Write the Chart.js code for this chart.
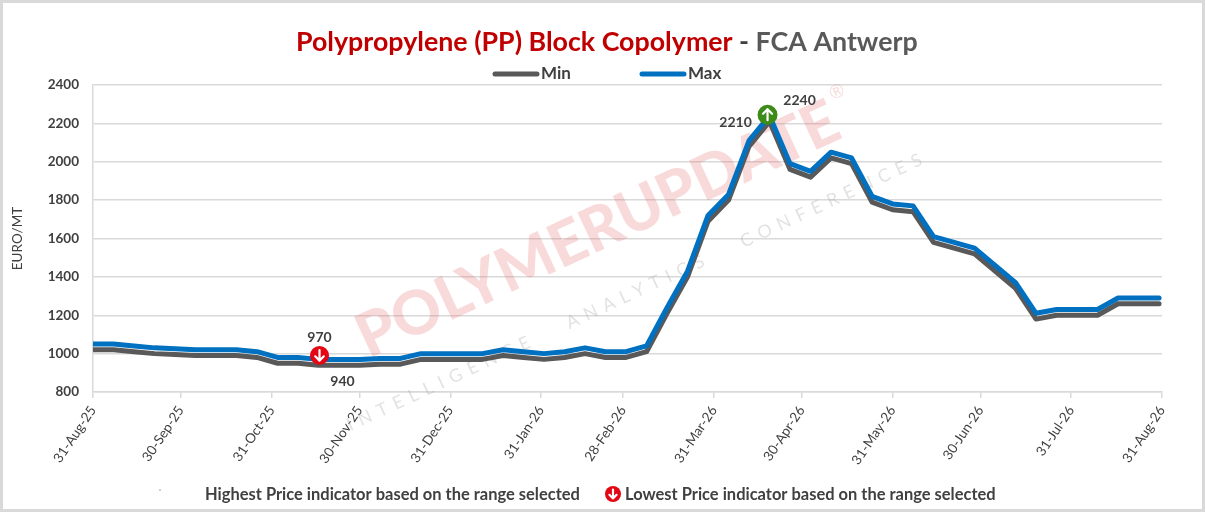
<!DOCTYPE html>
<html>
<head>
<meta charset="utf-8">
<script src="https://cdn.jsdelivr.net/npm/chart.js@4.4.1/dist/chart.umd.min.js"></script>
<style>
html,body{margin:0;padding:0;background:#fff}
canvas{display:block}
</style>
</head>
<body>
<canvas id="chart" width="1205" height="512"></canvas>
<script>
// weekly price dates
const weekDates = [
'2025-08-31','2025-09-07','2025-09-14','2025-09-21','2025-09-28','2025-10-05','2025-10-12','2025-10-19','2025-10-26',
'2025-11-02','2025-11-09','2025-11-16','2025-11-23','2025-11-30','2025-12-07','2025-12-14','2025-12-21','2025-12-28',
'2026-01-04','2026-01-11','2026-01-18','2026-01-25','2026-02-01','2026-02-08','2026-02-15','2026-02-22',
'2026-03-01','2026-03-08','2026-03-15','2026-03-22','2026-03-29','2026-04-05','2026-04-12','2026-04-19','2026-04-26',
'2026-05-03','2026-05-10','2026-05-17','2026-05-24','2026-05-31','2026-06-07','2026-06-14','2026-06-21','2026-06-28',
'2026-07-05','2026-07-12','2026-07-19','2026-07-26','2026-08-02','2026-08-09','2026-08-16','2026-08-23','2026-08-30'
];

const minPrice = [
1020,1020,1010,1000,995,990,990,990,980,
950,950,940,940,940,945,945,970,970,
970,970,990,980,970,980,1000,980,
980,1010,1210,1400,1690,1800,2080,2210,1960,
1920,2020,1990,1790,1750,1740,1580,1550,1520,
1430,1340,1180,1200,1200,1200,1260,1260,1260
];

const maxPrice = [
1050,1050,1040,1030,1025,1020,1020,1020,1010,
980,980,970,970,970,975,975,1000,1000,
1000,1000,1020,1010,1000,1010,1030,1010,
1010,1040,1240,1430,1720,1830,2110,2240,1990,
1950,2050,2020,1820,1780,1770,1610,1580,1550,
1460,1370,1210,1230,1230,1230,1290,1290,1290
];

const tickDates = ['2025-08-31','2025-09-30','2025-10-31','2025-11-30','2025-12-31','2026-01-31','2026-02-28',
'2026-03-31','2026-04-30','2026-05-31','2026-06-30','2026-07-31','2026-08-31'];
const tickLabels = ['31-Aug-25','30-Sep-25','31-Oct-25','30-Nov-25','31-Dec-25','31-Jan-26','28-Feb-26',
'31-Mar-26','30-Apr-26','31-May-26','30-Jun-26','31-Jul-26','31-Aug-26'];

const FONT = 'Lato, "Open Sans", sans-serif';
const t0 = Date.parse(tickDates[0]);
function dayOf(s){ return (Date.parse(s) - t0) / 86400000; }
const tickDays = tickDates.map(dayOf);

function series(vals){
  return vals.map((v,i)=>({x: dayOf(weekDates[i]), y: v}));
}

function fitFont(ctx, text, weight, width){
  ctx.font = weight + ' 100px ' + FONT;
  return 100 * width / ctx.measureText(text).width;
}

function arrowMark(ctx, x, y, r, fill, up){
  ctx.save();
  ctx.fillStyle = fill;
  ctx.beginPath(); ctx.arc(x, y, r, 0, Math.PI*2); ctx.fill();
  ctx.strokeStyle = '#fff'; ctx.lineWidth = 2.2; ctx.lineCap = 'round'; ctx.lineJoin = 'round';
  const s = up ? -1 : 1;
  ctx.beginPath();
  ctx.moveTo(x, y - s*r*0.55); ctx.lineTo(x, y + s*r*0.55);
  ctx.moveTo(x - r*0.45, y + s*r*0.1); ctx.lineTo(x, y + s*r*0.55); ctx.lineTo(x + r*0.45, y + s*r*0.1);
  ctx.stroke();
  ctx.restore();
}

const decor = {
  id: 'decor',
  beforeDraw(chart){
    const ctx = chart.ctx;
    ctx.save();
    ctx.fillStyle = '#fff';
    ctx.fillRect(0, 0, chart.width, chart.height);
    ctx.strokeStyle = '#d9d9d9'; ctx.lineWidth = 3;
    ctx.strokeRect(1.5, 1.5, chart.width - 3, chart.height - 3);
    ctx.restore();
  },
  beforeDatasetsDraw(chart){
    const ctx = chart.ctx;
    ctx.save();
    ctx.translate(598, 230);
    ctx.rotate(-25 * Math.PI / 180);
    const word = 'POLYMERUPDATE';
    const fs = fitFont(ctx, word, '900', 525);
    ctx.font = '900 ' + fs + 'px ' + FONT;
    ctx.textAlign = 'center'; ctx.textBaseline = 'middle';
    ctx.fillStyle = 'rgba(228,100,100,0.24)';
    ctx.fillText(word, 0, 0);
    ctx.font = (fs*0.3) + 'px ' + FONT;
    ctx.fillText('®', 275, -fs*0.4);
    ctx.font = '18px ' + FONT;
    ctx.letterSpacing = '7px';
    ctx.fillStyle = 'rgba(150,150,150,0.28)';
    ctx.fillText('INTELLIGENCE   ANALYTICS   CONFERENCES', 10, 72);
    ctx.restore();
  },
  afterDatasetsDraw(chart){
    const ctx = chart.ctx;
    const minMeta = chart.getDatasetMeta(0).data;
    const maxMeta = chart.getDatasetMeta(1).data;
    const hi = maxPrice.indexOf(Math.max(...maxPrice));
    const lo = maxPrice.indexOf(Math.min(...maxPrice));
    const hiMin = minPrice.indexOf(Math.max(...minPrice));
    const loMin = minPrice.indexOf(Math.min(...minPrice));
    arrowMark(ctx, maxMeta[hi].x - 2, maxMeta[hi].y - 1, 10, '#3d8c1a', true);
    arrowMark(ctx, maxMeta[lo].x + 1, maxMeta[lo].y - 4, 9.5, '#e30613', false);
    ctx.save();
    ctx.font = 'bold 14px ' + FONT;
    ctx.fillStyle = '#404040';
    ctx.textAlign = 'center'; ctx.textBaseline = 'middle';
    ctx.fillText(String(maxPrice[hi]), maxMeta[hi].x + 30, maxMeta[hi].y - 15);
    ctx.fillText(String(minPrice[hiMin]), minMeta[hiMin].x - 34, minMeta[hiMin].y + 1);
    ctx.fillText(String(maxPrice[lo]), maxMeta[lo].x + 1, maxMeta[lo].y - 22);
    ctx.fillText(String(minPrice[loMin]), minMeta[loMin].x + 24, minMeta[loMin].y + 16);
    ctx.restore();
  },
  afterDraw(chart){
    const ctx = chart.ctx;
    ctx.save();
    // title
    const parts = [['Polypropylene (PP) Block Copolymer','#c00000'],[' - ','#404040'],['FCA Antwerp','#595959']];
    const full = parts.map(p=>p[0]).join('');
    const fs = fitFont(ctx, full, 'bold', 622);
    ctx.font = 'bold ' + fs + 'px ' + FONT;
    ctx.textBaseline = 'middle'; ctx.textAlign = 'left';
    let x = 296;
    parts.forEach(p=>{ ctx.fillStyle = p[1]; ctx.fillText(p[0], x, 42); x += ctx.measureText(p[0]).width; });
    // legend
    const items = [[chart.data.datasets[0], 493], [chart.data.datasets[1], 640]];
    ctx.font = 'bold 17px ' + FONT;
    items.forEach(([ds, lx])=>{
      ctx.strokeStyle = ds.borderColor; ctx.lineWidth = 5; ctx.lineCap = 'round';
      ctx.beginPath(); ctx.moveTo(lx + 2, 74); ctx.lineTo(lx + 44, 74); ctx.stroke();
      ctx.fillStyle = '#404040';
      ctx.fillText(ds.label, lx + 48, 74);
    });
    // footer
    const f1 = 'Highest Price indicator based on the range selected';
    const f2 = 'Lowest Price indicator based on the range selected';
    const ffs = fitFont(ctx, f1, 'bold', 375);
    ctx.font = 'bold ' + ffs + 'px ' + FONT;
    ctx.fillStyle = '#404040';
    ctx.fillText(f1, 205, 495);
    ctx.fillText(f2, 625, 495);
    ctx.fillStyle = '#cfcfcf';
    ctx.fillRect(159, 489, 2, 2);
    ctx.restore();
    arrowMark(ctx, 613, 494, 8, '#e30613', false);
  }
};

new Chart(document.getElementById('chart'), {
  type: 'line',
  data: {
    datasets: [
      {label: 'Min', data: series(minPrice), borderColor: '#595959', backgroundColor: '#595959', order: 1},
      {label: 'Max', data: series(maxPrice), borderColor: '#0070c0', backgroundColor: '#0070c0', order: 0}
    ]
  },
  options: {
    responsive: false,
    animation: false,
    events: [],
    layout: {padding: {top: 85, right: 43, bottom: 45, left: 0}},
    elements: {
      line: {borderWidth: 5, tension: 0, borderJoinStyle: 'round', borderCapStyle: 'round'},
      point: {radius: 0}
    },
    plugins: {legend: {display: false}, title: {display: false}, tooltip: {enabled: false}},
    scales: {
      x: {
        type: 'linear',
        min: tickDays[0],
        max: tickDays[tickDays.length - 1],
        afterBuildTicks: s => { s.ticks = tickDays.map(v => ({value: v})); },
        afterFit: s => { s.height = 75; },
        ticks: {
          autoSkip: false, minRotation: 56, maxRotation: 56, padding: 5,
          color: '#404040', font: {family: FONT, size: 13.5},
          callback: v => tickLabels[tickDays.indexOf(v)] || ''
        },
        grid: {drawOnChartArea: false, drawTicks: true, tickLength: 6, color: '#d9d9d9', lineWidth: 1.5},
        border: {color: '#d9d9d9', width: 1.5}
      },
      y: {
        min: 800, max: 2400,
        afterFit: s => { s.width = 93; },
        ticks: {stepSize: 200, padding: 14, color: '#404040', font: {family: FONT, size: 13.5, weight: 'bold'},
          callback: v => String(v)},
        grid: {color: '#d9d9d9', lineWidth: 1.5, drawTicks: false},
        border: {display: true, color: '#d9d9d9', width: 1.5},
        title: {display: true, text: 'EURO/MT', color: '#404040', font: {family: FONT, size: 13.5}, padding: {top: 10, bottom: 0}}
      }
    }
  },
  plugins: [decor]
});
</script>
</body>
</html>
